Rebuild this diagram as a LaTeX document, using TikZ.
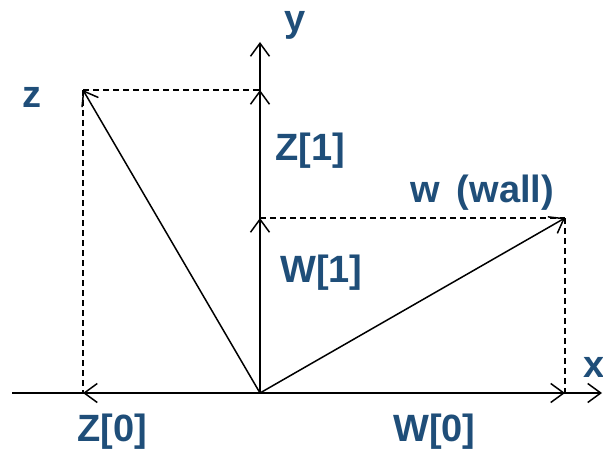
\documentclass[tikz,border=0pt]{standalone}
\usepackage{fontspec}
\setmainfont{Liberation Sans}
\usetikzlibrary{arrows.meta}
\definecolor{lbl}{HTML}{1F4E79}
\begin{document}
\begin{tikzpicture}[x=1pt,y=-1pt,
  vec/.style={line width=1.5pt,-{Straight Barb[length=13pt,width=19pt,line width=1.5pt]}},
  guide/.style={line width=1.3pt,dash pattern=on 6pt off 4pt},
  lab/.style={text=lbl,font=\fontsize{38}{40}\selectfont\bfseries,inner sep=0pt,anchor=base west}]
\useasboundingbox (0,0) rectangle (603,452);
\coordinate (O) at (260,393);
\coordinate (Z) at (83,90);
\coordinate (W) at (565,218);
\coordinate (Zx) at (83,393);
\coordinate (Zy) at (260,90);
\coordinate (Wx) at (565,393);
\coordinate (Wy) at (260,218);
\coordinate (Xs) at (12,393);
\coordinate (Xe) at (602,393);
\coordinate (Ye) at (260,42);
% guides
\draw[guide] (Z) -- (Zy);
\draw[guide] (Z) -- (Zx);
\draw[guide] (Wy) -- (W);
\draw[guide] (W) -- (Wx);
% axes
\draw[vec] (Xs) -- (Xe);
\draw[vec] (O) -- (Ye);
% components
\draw[vec] (O) -- (Zy);
\draw[vec] (O) -- (Wy);
\draw[vec] (O) -- (Zx);
\draw[vec] (O) -- (Wx);
% vectors
\draw[vec] (O) -- (Z);
\draw[vec] (O) -- (W);
% labels
\node[lab] (ly) at (284,32) {y};
\node[lab] (lz) at (22,108) {z};
\node[lab] (lZ1) at (275,160) {Z[1]};
\node[lab] (lw) at (410,202) {w\hspace{0.45em}(wall)};
\node[lab] (lW1) at (280,282) {W[1]};
\node[lab] (lx) at (583,377) {x};
\node[lab] (lZ0) at (77,441) {Z[0]};
\node[lab] (lW0) at (393,441) {W[0]};
\end{tikzpicture}
\end{document}
